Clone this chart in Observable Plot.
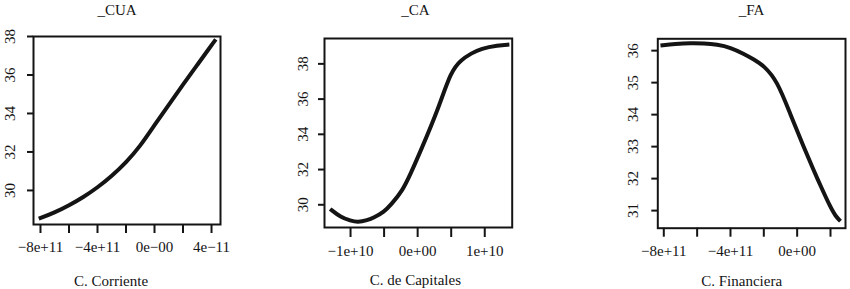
<!DOCTYPE html>
<html>
<head>
<meta charset="utf-8">
<script src="https://cdn.jsdelivr.net/npm/d3@7"></script>
<script src="https://cdn.jsdelivr.net/npm/@observablehq/plot@0.6"></script>
<style>
  html, body { margin: 0; padding: 0; background: #fff; }
  #chart { position: relative; width: 850px; height: 289px; overflow: hidden; }
  #chart > div { position: absolute; top: 0; }
  #chart svg { overflow: visible; }
  #chart svg, #chart svg text, #chart svg g {
    font-family: "Liberation Serif", Tinos, "Times New Roman", Times, "DejaVu Serif", serif !important;
  }
</style>
</head>
<body>
<div id="chart"></div>
<script>
// ---- Panel 1: _CUA (C. Corriente) ----
const cuaTitle = "_CUA";
const cuaLabel = "C. Corriente";
const cuaX = [-8.12e11, -7e11, -6e11, -5e11, -4e11, -3e11, -2e11, -1e11, 0, 1e11, 2e11, 3e11, 4e11, 4.3e11];
const cuaY = [28.53, 28.85, 29.22, 29.65, 30.15, 30.75, 31.45, 32.3, 33.4, 34.45, 35.5, 36.52, 37.55, 37.85];
const cuaXTicks = [-8e11, -6e11, -4e11, -2e11, 0, 2e11, 4e11];
const cuaXTickLabels = ["\u22128e+11", "", "\u22124e+11", "", "0e\u221200", "", "4e\u221211"];
const cuaYTicks = [30, 32, 34, 36, 38];

// ---- Panel 2: _CA (C. de Capitales) ----
const caTitle = "_CA";
const caLabel = "C. de Capitales";
const caX = [-13.04e9, -11.45e9, -10e9, -8.96e9, -7.5e9, -6.48e9, -5e9, -3.99e9, -2.24e9, -1e9, 0.49e9, 2.99e9, 4.97e9, 6.46e9, 8e9, 9.45e9, 11.94e9, 13.67e9];
const caY = [29.76, 29.28, 29.1, 29.0, 29.12, 29.28, 29.6, 30.0, 30.8, 31.8, 33.1, 35.35, 37.6, 38.22, 38.6, 38.87, 39.05, 39.1];
const caXTicks = [-1e10, -5e9, 0, 5e9, 1e10];
const caXTickLabels = ["\u22121e+10", "", "0e+00", "", "1e+10"];
const caYTicks = [30, 32, 34, 36, 38];

// ---- Panel 3: _FA (C. Financiera) ----
const faTitle = "_FA";
const faLabel = "C. Financiera";
const faX = [-8.2e11, -7.3e11, -6.4e11, -5.6e11, -4.8e11, -4e11, -3.2e11, -2.6e11, -2e11, -1.2e11, -0.4e11, 0.4e11, 1e11, 1.4e11, 2e11, 2.3e11, 2.6e11];
const faY = [36.16, 36.21, 36.24, 36.23, 36.19, 36.1, 35.9, 35.73, 35.53, 35.06, 34.0, 32.98, 32.25, 31.78, 31.1, 30.83, 30.67];
const faXTicks = [-8e11, -6e11, -4e11, -2e11, 0, 2e11];
const faXTickLabels = ["\u22128e+11", "", "\u22124e+11", "", "0e+00", ""];
const faYTicks = [31, 32, 33, 34, 35, 36];

const INK = "#141414";
const FONT = "Liberation Serif, Tinos, Times New Roman, DejaVu Serif, serif";

const panels = [
  {left: 0, width: 283, m: [36, 63, 65, 33], xDomain: [-8.49e11, 4.63e11], yDomain: [28.23, 38],
   xs: cuaX, ys: cuaY, xt: cuaXTicks, xtl: cuaXTickLabels, yt: cuaYTicks, title: cuaTitle, label: cuaLabel,
   titleDx: -10, titleDy: -26.8, labelDx: -16, labelDy: 56.2, yLabDx: -23.8, tickSize: 9},
  {left: 283, width: 283, m: [38, 54.3, 62, 41], xDomain: [-1.388e10, 1.409e10], yDomain: [28.71, 39.44],
   xs: caX, ys: caY, xt: caXTicks, xtl: caXTickLabels, yt: caYTicks, title: caTitle, label: caLabel,
   titleDx: -3, titleDy: -28.8, labelDx: -3, labelDy: 52.2, yLabDx: -21.8, tickSize: 10},
  {left: 566, width: 284, m: [38.3, 5, 61.3, 91.3], xDomain: [-8.36e11, 2.9e11], yDomain: [30.45, 36.37],
   xs: faX, ys: faY, xt: faXTicks, xtl: faXTickLabels, yt: faYTicks, title: faTitle, label: faLabel,
   titleDx: 0, titleDy: -29.1, labelDx: -10, labelDy: 52.5, yLabDx: -24.8, tickSize: 9}
];

const chart = document.getElementById("chart");
for (const p of panels) {
  const data = p.xs.map((x, i) => ({x, y: p.ys[i]}));
  const labelOf = new Map(p.xt.map((t, i) => [t, p.xtl[i]]));
  const svg = Plot.plot({
    width: p.width,
    height: 289,
    marginTop: p.m[0], marginRight: p.m[1], marginBottom: p.m[2], marginLeft: p.m[3],
    style: {fontSize: "15px", color: INK, background: "transparent", overflow: "visible"},
    x: {domain: p.xDomain, axis: null},
    y: {domain: p.yDomain, axis: null},
    marks: [
      Plot.line(data, {x: "x", y: "y", stroke: INK, strokeWidth: 4, curve: "basis", strokeLinecap: "butt"}),
      Plot.frame({stroke: INK, strokeWidth: 2}),
      Plot.axisX({ticks: p.xt, tickSize: p.tickSize, tickPadding: 8, strokeWidth: 2, stroke: INK, fill: INK,
        tickFormat: (d) => labelOf.get(d) ?? "", fontSize: 15, fontFamily: FONT, label: null}),
      Plot.axisY({ticks: p.yt, tickSize: 6, tickPadding: 2, strokeWidth: 2, stroke: INK,
        tickFormat: () => "", label: null}),
      Plot.text(p.yt, {frameAnchor: "left", y: (d) => d, text: (d) => String(d), rotate: -90,
        textAnchor: "middle", lineAnchor: "middle", dx: p.yLabDx, fill: INK, fontSize: 15, fontFamily: FONT}),
      Plot.text([p.title], {frameAnchor: "top", text: (d) => d, dx: p.titleDx, dy: p.titleDy,
        fill: INK, fontSize: 15, fontFamily: FONT, lineAnchor: "middle"}),
      Plot.text([p.label], {frameAnchor: "bottom", text: (d) => d, dx: p.labelDx, dy: p.labelDy,
        fill: INK, fontSize: 15, fontFamily: FONT, lineAnchor: "middle"})
    ]
  });
  svg.querySelectorAll("text").forEach((t) => t.setAttribute("font-family", FONT));
  const wrap = document.createElement("div");
  wrap.style.left = p.left + "px";
  wrap.style.width = p.width + "px";
  wrap.appendChild(svg);
  chart.appendChild(wrap);
}
</script>
</body>
</html>
